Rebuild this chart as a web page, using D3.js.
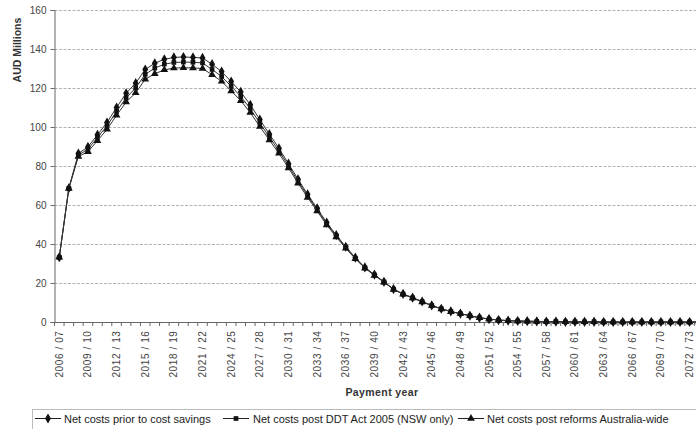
<!DOCTYPE html>
<html><head><meta charset="utf-8">
<script src="https://cdn.jsdelivr.net/npm/d3@7"></script>
<style>
html,body{margin:0;padding:0;background:#fff;overflow:hidden}
svg{display:block;font-family:"Liberation Sans",Arial,sans-serif}
</style>
</head><body>
<svg id="chart" width="696" height="429"></svg>
<script>
const categories = ["2006 / 07","2007 / 08","2008 / 09","2009 / 10","2010 / 11","2011 / 12","2012 / 13","2013 / 14","2014 / 15","2015 / 16","2016 / 17","2017 / 18","2018 / 19","2019 / 20","2020 / 21","2021 / 22","2022 / 23","2023 / 24","2024 / 25","2025 / 26","2026 / 27","2027 / 28","2028 / 29","2029 / 30","2030 / 31","2031 / 32","2032 / 33","2033 / 34","2034 / 35","2035 / 36","2036 / 37","2037 / 38","2038 / 39","2039 / 40","2040 / 41","2041 / 42","2042 / 43","2043 / 44","2044 / 45","2045 / 46","2046 / 47","2047 / 48","2048 / 49","2049 / 50","2050 / 51","2051 / 52","2052 / 53","2053 / 54","2054 / 55","2055 / 56","2056 / 57","2057 / 58","2058 / 59","2059 / 60","2060 / 61","2061 / 62","2062 / 63","2063 / 64","2064 / 65","2065 / 66","2066 / 67","2067 / 68","2068 / 69","2069 / 70","2070 / 71","2071 / 72","2072 / 73","2073 / 74"];

const tickLabels = ["2006 / 07","2009 / 10","2012 / 13","2015 / 16","2018 / 19","2021 / 22","2024 / 25","2027 / 28","2030 / 31","2033 / 34","2036 / 37","2039 / 40","2042 / 43","2045 / 46","2048 / 49","2051 / 52","2054 / 55","2057 / 58","2060 / 61","2063 / 64","2066 / 67","2069 / 70","2072 / 73"];

const yTicks = [0,20,40,60,80,100,120,140,160];

const seriesNames = ["Net costs prior to cost savings","Net costs post DDT Act 2005 (NSW only)","Net costs post reforms Australia-wide"];

const priorSavings = [33.2,68.6,86.4,89.8,96.0,102.3,110.0,117.3,122.5,129.5,132.7,134.7,135.7,135.9,135.7,135.4,132.2,128.4,123.3,118.0,111.4,103.8,96.3,89.1,81.2,73.2,65.5,58.3,51.0,44.6,38.6,33.0,28.0,24.3,20.6,16.9,14.4,12.5,10.5,8.5,6.8,5.4,4.3,3.2,2.2,1.5,1.0,0.7,0.5,0.4,0.3,0.2,0.2,0.1,0.1,0.1,0.1,0,0,0,0,0,0,0,0,0,0,0];

const postDDT = [33.2,68.5,85.6,88.6,94.6,100.6,108.0,115.0,120.0,127.0,130.2,132.2,133.1,133.3,133.2,132.9,129.5,125.9,120.9,115.7,109.4,102.0,94.8,87.8,80.1,72.2,64.7,57.6,50.4,44.1,38.2,32.7,27.8,24.1,20.5,16.8,14.3,12.4,10.4,8.5,6.8,5.4,4.3,3.2,2.2,1.5,1.0,0.7,0.5,0.4,0.3,0.2,0.2,0.1,0.1,0.1,0.1,0,0,0,0,0,0,0,0,0,0,0];

const postReforms = [33.2,68.4,84.9,87.3,93.0,98.8,106.0,112.8,117.5,124.5,127.3,129.3,130.2,130.4,130.3,130.0,126.8,123.4,118.5,113.5,107.4,100.2,93.3,86.5,79.0,71.2,63.9,56.9,49.8,43.6,37.8,32.4,27.6,23.9,20.4,16.7,14.2,12.3,10.3,8.4,6.7,5.3,4.3,3.2,2.2,1.5,1.0,0.7,0.5,0.4,0.3,0.2,0.2,0.1,0.1,0.1,0.1,0,0,0,0,0,0,0,0,0,0,0];

(function () {
const seriesValues = [priorSavings, postDDT, postReforms];
const symbolTypes = [d3.symbolDiamond, d3.symbolSquare, d3.symbolTriangle];
const symbolSizes = [30, 22, 26];

const svg = d3.select("#chart");
const plotLeft = 54.5, plotTop = 10, plotBottom = 322;
const step = 9.55;

const x = d3.scaleBand().domain(categories).range([plotLeft, plotLeft + step * categories.length]).padding(0);
const y = d3.scaleLinear().domain([0, 160]).range([plotBottom, plotTop]);

// gridlines
svg.append("g").selectAll("line").data(yTicks.filter(d => d > 0)).join("line")
  .attr("x1", plotLeft).attr("x2", 700)
  .attr("y1", d => Math.round(y(d)) + 0.5).attr("y2", d => Math.round(y(d)) + 0.5)
  .attr("stroke", "#a0a0a0").attr("stroke-width", 0.8).attr("stroke-dasharray", "3,1.5");

// y axis
const yAxis = d3.axisLeft(y).tickValues(yTicks).tickSize(4).tickPadding(4);
const gy = svg.append("g").attr("transform", `translate(${plotLeft},0)`).call(yAxis);
gy.select(".domain").attr("stroke", "#666");
gy.selectAll(".tick line").attr("stroke", "#666");
gy.selectAll(".tick text").attr("font-size", 10).attr("fill", "#444")
  .attr("font-family", "'Liberation Sans',Arial,sans-serif");

// x axis: ticks at category boundaries
const gx = svg.append("g").attr("transform", `translate(0,${plotBottom + 0.5})`);
gx.append("line").attr("x1", plotLeft).attr("x2", 700).attr("stroke", "#666");
gx.selectAll("line.tk").data(categories).join("line").attr("class", "tk")
  .attr("x1", d => x(d)).attr("x2", d => x(d)).attr("y1", 0).attr("y2", 3.5)
  .attr("stroke", "#666");
gx.selectAll("text").data(tickLabels).join("text")
  .attr("transform", d => `translate(${x(d) + x.bandwidth() / 2 + 3.5},8) rotate(-90)`)
  .attr("text-anchor", "end")
  .attr("font-size", 10).attr("letter-spacing", 0.6).attr("fill", "#444")
  .text(d => d);

// axis titles
svg.append("text").attr("transform", "translate(21,50) rotate(-90)")
  .attr("text-anchor", "middle").attr("font-size", 10.5).attr("font-weight", "bold").attr("fill", "#333")
  .text("AUD Millions");
svg.append("text").attr("x", 382).attr("y", 396)
  .attr("text-anchor", "middle").attr("font-size", 10.5).attr("font-weight", "bold").attr("fill", "#333")
  .attr("letter-spacing", 0.4)
  .text("Payment year");

// series
const line = d3.line().x((d, i) => x(categories[i]) + x.bandwidth() / 2).y(d => y(d));
seriesValues.forEach((vals, s) => {
  const g = svg.append("g");
  g.append("path").datum(vals).attr("d", line).attr("fill", "none")
    .attr("stroke", "#333").attr("stroke-width", 1);
  g.selectAll("path.m").data(vals).join("path").attr("class", "m")
    .attr("transform", (d, i) => `translate(${x(categories[i]) + x.bandwidth() / 2},${y(d)})`)
    .attr("d", d3.symbol().type(symbolTypes[s]).size(symbolSizes[s]))
    .attr("fill", "#111");
});

// legend
const lg = svg.append("g");
lg.append("rect").attr("x", 32.5).attr("y", 409.5).attr("width", 700).attr("height", 40)
  .attr("fill", "none").attr("stroke", "#bbb");
const legendX = [35, 223, 458];
const legendTextX = [64, 253, 487];
seriesNames.forEach((name, s) => {
  const lx = legendX[s];
  lg.append("line").attr("x1", lx).attr("x2", lx + 26).attr("y1", 418.5).attr("y2", 418.5)
    .attr("stroke", "#222").attr("stroke-width", 1);
  lg.append("path").attr("transform", `translate(${lx + 13},418.5)`)
    .attr("d", d3.symbol().type(symbolTypes[s]).size(symbolSizes[s])).attr("fill", "#111");
  lg.append("text").attr("x", legendTextX[s]).attr("y", 422.5).attr("font-size", 11).attr("fill", "#222")
    .text(name);
});
})();
</script>
</body></html>
